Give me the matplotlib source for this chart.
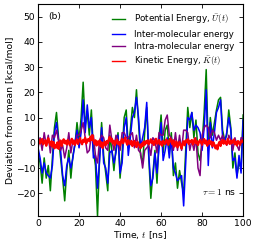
import numpy as np
import matplotlib
matplotlib.use("Agg")
import matplotlib.pyplot as plt

plt.rcParams["mathtext.fontset"] = "cm"
plt.rcParams["font.size"] = 6.7

# time axis [ns], 1 ns spacing for the energy components
t = np.arange(0, 101)

# Potential energy (green)
potential = [-4, -8, -16, -6, -14, -9, -19, -6, 6, 12,
             2, -6, -14, -23, -11, -3, -14, -5, -1, 8,
             1, 10, 24, 7, 12, 3, 13, -3, -9, -29,
             -6, 8, -5, -12, -19, 3, -3, -11, -2, 4,
             -14, -4, 10, 13, -2, 5, 14, 10, 21, 8,
             -5, -8, 4, 14, -6, -22, -12, -3, -16, 2,
             11, -4, 5, 7, -3, 4, -13, -8, -18, -11,
             -16, -20, -3, 14, 6, 12, 2, 9, -4, -7,
             0, 12, 29, -3, 10, 3, 8, 13, 17, 18,
             5, 1, 3, 13, 6, -10, -4, -13, -8, -10,
             11]

# Inter-molecular (blue)
inter = [-2, -6, -12, -8, -12, -13, -14, -9, 4, 8,
         1, -3, -13, -17, -9, -6, -10, -6, 0, 5,
         -2, 4, 17, 4, 15, 6, 10, -6, -5, -18,
         -7, 6, -8, -10, -16, -4, -3, -8, -4, 3,
         -12, -8, 6, 10, -5, 2, 10, 12, 18, 10,
         -2, 2, 6, 16, -5, -17, -14, -4, -12, -2,
         8, -7, -3, 2, -6, 2, -10, -12, -15, -14,
         -13, -25, -8, 10, 9, 12, 5, 7, 6, 4,
         -3, 6, 21, -9, 8, -2, 4, 12, 14, 17,
         2, 0, 4, 10, 5, -7, -6, -14, -5, -12,
         9]

# Intra-molecular (purple)
intra = [-2, 2, -3, 4, -1, 3, -4, 3, 2, 5,
         1, -3, -1, -6, -2, 4, -4, 1, -1, 3,
         3, 5, 8, 2, -4, -3, 3, 3, -5, -8,
         1, 3, 2, -2, -3, 7, 1, -3, 3, 1,
         -3, 4, 4, 2, 2, 3, 4, -2, 3, -3,
         -4, -10, -3, -2, -1, -5, 2, 1, -4, 4,
         3, 3, 9, 11, 3, 2, -3, 4, -3, 3,
         -3, 5, 5, 4, -3, 1, -3, 2, -10, -13,
         3, 6, 7, 6, 2, 5, 4, 1, 3, 1,
         3, 1, -1, 3, 1, -3, 2, -1, -3, 2,
         2]

# Kinetic energy (red), 0.5 ns spacing
t_kin = np.arange(0, 100.5, 0.5)
kinetic = [0.5, 1.2, -0.3, 0.8, 1.5, -0.6, 0.2, 1.0, -1.2, 0.4,
           1.8, 0.1, -0.9, 0.6, -1.5, 0.3, -2.2, -0.8, -1.9, 0.2,
           -2.4, -0.5, 0.9, -1.3, 0.4, 1.4, -0.2, 0.8, -0.7, 1.1,
           0.2, -1.0, 0.6, 1.6, -0.4, 0.9, -0.8, 0.3, 1.3, -0.5,
           0.7, 1.9, 0.1, -0.6, 1.2, 0.4, 2.0, -0.3, 0.9, 1.5,
           0.6, 2.4, 1.1, 3.0, 0.8, -0.4, 1.0, -1.1, 0.5, -0.7,
           0.9, -1.4, 0.2, -2.1, -0.6, 0.4, -1.0, 0.7, -0.2, 1.3,
           2.3, 0.5, 1.6, -0.3, 0.8, -0.9, 0.4, 1.2, -0.5, 0.3,
           -1.1, 0.6, 1.5, -0.2, 0.9, 2.1, 0.3, -0.8, 1.1, 0.2,
           -0.6, 0.8, -1.3, 0.1, 0.7, -0.9, -1.7, 0.4, -0.5, -1.2,
           -2.1, -0.3, -1.4, 0.5, -0.8, 0.6, -0.2, 1.0, -0.6, 0.3,
           1.4, -0.1, 0.7, -0.9, 0.5, 1.6, -0.4, 0.2, 1.1, -0.7,
           0.4, -1.2, 0.8, 0.1, -0.5, 1.3, 0.6, -0.8, 0.9, 1.7,
           0.2, -0.6, 1.0, -1.5, -0.3, 0.5, -1.8, -0.7, 0.3, -1.1,
           -2.3, -0.4, 0.6, -1.0, 0.9, 0.2, 1.4, -0.5, 0.8, 0.3,
           1.1, -0.7, 0.5, 1.8, -0.2, 0.6, -0.9, 0.4, 1.2, 0.0,
           -0.8, 0.7, 1.5, -0.3, 0.9, -1.2, 0.3, 1.0, -0.6, 0.5,
           -1.4, 0.2, -0.8, -2.2, -1.0, -2.6, -0.5, 0.4, -1.3, 0.6,
           1.2, -0.4, 0.8, 0.1, -0.7, 1.5, 0.3, -0.5, 0.9, -0.2,
           0.6, 1.3, -0.6, 0.4, -1.1, 0.7, 0.2, -0.8, 0.5, 1.0,
           0.3]

fig = plt.figure(figsize=(2.57, 2.46), dpi=100)
ax = fig.add_axes([0.148, 0.122, 0.798, 0.862])

ax.plot(t, potential, color="green", lw=1.1, label=r"Potential Energy, $\bar{U}(t)$")
ax.plot(t, inter, color="blue", lw=1.1, label="Inter-molecular energy")
ax.plot(t, intra, color="purple", lw=1.1, label="Intra-molecular energy")
ax.plot(t_kin, kinetic, color="red", lw=1.6, label=r"Kinetic Energy, $\bar{K}(t)$")

ax.set_xlim(0, 100)
ax.set_ylim(-29, 55)
ax.set_xticks([0, 20, 40, 60, 80, 100])
ax.set_yticks([-20, -10, 0, 10, 20, 30, 40, 50])
ax.tick_params(direction="in", top=True, right=True, length=3, width=0.6, pad=2)
for s in ax.spines.values():
    s.set_linewidth(0.8)

ax.set_xlabel(r"Time, $t$ [ns]", labelpad=1)
ax.set_ylabel("Deviation from mean [kcal/mol]", labelpad=1)

ax.text(0.05, 0.93, "(b)", transform=ax.transAxes)
ax.text(0.8, 0.1, r"$\tau = 1$ ns", transform=ax.transAxes)

leg = ax.legend(loc="upper right", frameon=False, fontsize=6.3, handlelength=1.5,
                handletextpad=1.0, labelspacing=0.4, borderaxespad=0.6)
for h in leg.get_lines():
    h.set_linewidth(1.0)

fig.savefig("out.png", dpi=100)
